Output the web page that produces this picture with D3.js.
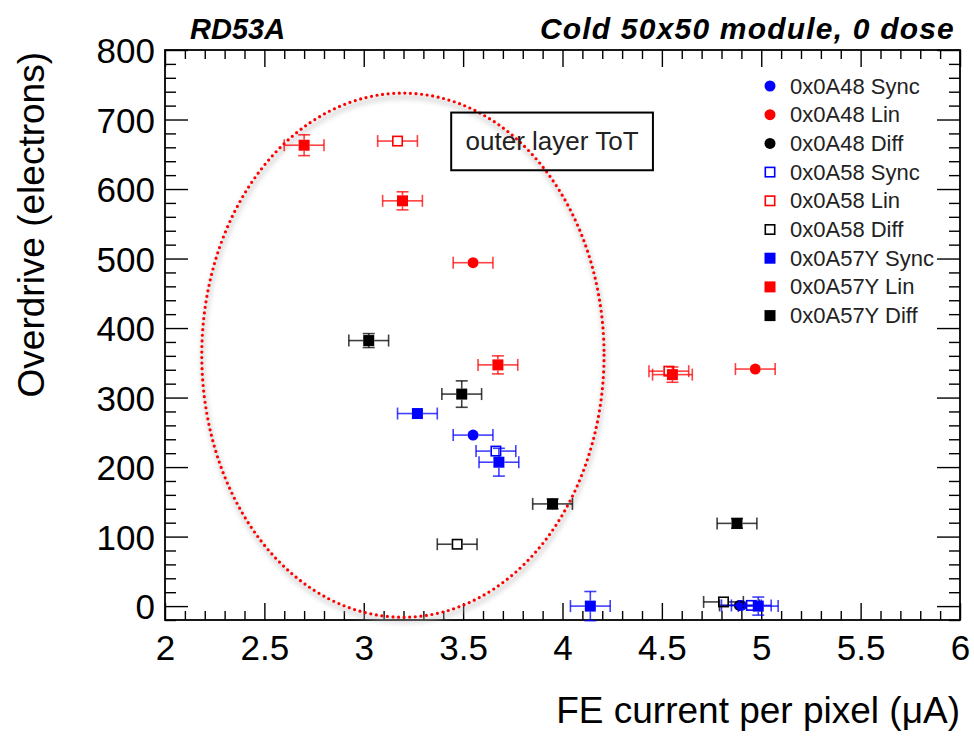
<!DOCTYPE html>
<html>
<head>
<meta charset="utf-8">
<script src="https://cdn.jsdelivr.net/npm/d3@7"></script>
<style>
  body { margin: 0; background: #fff; }
  svg text { font-family: "Liberation Sans", Arial, Helvetica, sans-serif; }
</style>
</head>
<body>
<svg id="chart" width="974" height="736"></svg>
<script>
// series values: [x (uA), y (electrons), x error, y error]
const a48Sync  = [[3.55, 246, 0.10, 0], [4.90, 1, 0.10, 0]];
const a48Lin   = [[3.55, 494, 0.10, 0], [4.97, 341, 0.10, 0]];
const a48Diff  = [[4.89, 1, 0.10, 0]];
const a58Sync  = [[3.665, 223, 0.10, 0], [4.95, 1, 0.10, 0]];
const a58Lin   = [[3.17, 669, 0.10, 0], [4.535, 338, 0.10, 0]];
const a58Diff  = [[3.47, 89, 0.10, 0], [4.81, 6, 0.10, 0]];
const a57YSync = [[3.27, 277, 0.10, 0], [3.68, 207, 0.10, 20], [4.14, 0, 0.10, 21], [4.985, 0, 0.10, 13]];
const a57YLin  = [[2.70, 663, 0.10, 15], [3.195, 583, 0.10, 13], [3.675, 347, 0.10, 13], [4.553, 333, 0.10, 11]];
const a57YDiff = [[3.025, 382, 0.10, 10], [3.493, 305, 0.10, 19], [3.95, 147, 0.10, 7], [4.878, 119, 0.10, 7]];

const seriesNames = ['0x0A48 Sync', '0x0A48 Lin', '0x0A48 Diff',
                     '0x0A58 Sync', '0x0A58 Lin', '0x0A58 Diff',
                     '0x0A57Y Sync', '0x0A57Y Lin', '0x0A57Y Diff'];
const seriesData = [a48Sync, a48Lin, a48Diff, a58Sync, a58Lin, a58Diff, a57YSync, a57YLin, a57YDiff];
const seriesColor = ['#0000ff', '#ff0000', '#000000', '#0000ff', '#ff0000', '#000000', '#0000ff', '#ff0000', '#000000'];
const seriesMarker = ['circle', 'circle', 'circle', 'open', 'open', 'open', 'square', 'square', 'square'];
// draw order (black 0x0A48 circle sits under the blue one)
const drawOrder = [2, 0, 1, 5, 3, 4, 8, 6, 7];

const xMajor = [2, 2.5, 3, 3.5, 4, 4.5, 5, 5.5, 6];
const yMajor = [0, 100, 200, 300, 400, 500, 600, 700, 800];

const titleLeft = 'RD53A';
const titleRight = 'Cold 50x50 module, 0 dose';
const xTitle = 'FE current per pixel (\u03bcA)';
const yTitle = 'Overdrive (electrons)';
const boxLabel = 'outer layer ToT';

// annotation ellipse in data units: centre, half-widths
const ellipse = { cx: 3.197, cy: 361, rx: 1.012, ry: 377 };
const box = { x0: 3.44, x1: 4.455, y0: 710, y1: 627 };

const svg = d3.select('#chart');
const mLeft = 165, mRight = 960, mTop = 50, mBottom = 620;

const x = d3.scaleLinear().domain([2, 6]).range([mLeft, mRight]);
const y = d3.scaleLinear().domain([-20, 800]).range([mBottom, mTop]);

// defs: blur filter for the ellipse shadow
const defs = svg.append('defs');
defs.append('filter').attr('id', 'shadow').attr('x', '-20%').attr('y', '-20%').attr('width', '140%').attr('height', '140%')
    .append('feGaussianBlur').attr('stdDeviation', 2.5);

// ---------- axes ----------
const minorX = d3.range(20, 61).map(d => d / 10).filter(d => Math.abs(d * 2 - Math.round(d * 2)) > 1e-6);
const minorY = d3.range(-20, 801, 20).filter(d => d % 100 !== 0);

const gx = svg.append('g').attr('transform', `translate(0,${mBottom})`)
    .call(d3.axisBottom(x).tickValues(xMajor).tickSize(-17).tickPadding(16).tickFormat(d3.format('')));
svg.append('g').attr('transform', `translate(0,${mBottom})`)
    .call(d3.axisBottom(x).tickValues(minorX).tickSize(-9).tickFormat(''));
svg.append('g').attr('transform', `translate(0,${mTop})`)
    .call(d3.axisTop(x).tickValues(xMajor).tickSize(-17).tickFormat(''));
svg.append('g').attr('transform', `translate(0,${mTop})`)
    .call(d3.axisTop(x).tickValues(minorX).tickSize(-9).tickFormat(''));

const gy = svg.append('g').attr('transform', `translate(${mLeft},0)`)
    .call(d3.axisLeft(y).tickValues(yMajor).tickSize(-23).tickPadding(10));
svg.append('g').attr('transform', `translate(${mLeft},0)`)
    .call(d3.axisLeft(y).tickValues(minorY).tickSize(-11).tickFormat(''));
svg.append('g').attr('transform', `translate(${mRight},0)`)
    .call(d3.axisRight(y).tickValues(yMajor).tickSize(-23).tickFormat(''));
svg.append('g').attr('transform', `translate(${mRight},0)`)
    .call(d3.axisRight(y).tickValues(minorY).tickSize(-11).tickFormat(''));

svg.selectAll('.domain').remove();
svg.selectAll('.tick line').attr('stroke', '#000').attr('stroke-width', 1.4);
svg.selectAll('.tick text').attr('fill', '#000').style('font-size', '35px');
gy.selectAll('.tick text').attr('dy', '0.36em');
gx.selectAll('.tick text').attr('dy', '0.68em');

svg.append('rect')
    .attr('x', mLeft).attr('y', mTop).attr('width', mRight - mLeft).attr('height', mBottom - mTop)
    .attr('fill', 'none').attr('stroke', '#000').attr('stroke-width', 1.8);

// ---------- titles ----------
svg.append('text').attr('x', 190).attr('y', 39)
    .style('font-size', '29px').style('font-weight', 'bold').style('font-style', 'italic')
    .text(titleLeft);
svg.append('text').attr('x', 955).attr('y', 39).attr('text-anchor', 'end')
    .style('font-size', '30px').style('font-weight', 'bold').style('font-style', 'italic')
    .style('letter-spacing', '1.2px')
    .text(titleRight);
svg.append('text').attr('x', 960).attr('y', 723).attr('text-anchor', 'end')
    .style('font-size', '37px').text(xTitle);
svg.append('text').attr('transform', 'translate(44,52) rotate(-90)').attr('text-anchor', 'end')
    .style('font-size', '37px').text(yTitle);

// ---------- ellipse annotation ----------
const ex = x(ellipse.cx), ey = y(ellipse.cy);
const erx = x(ellipse.cx + ellipse.rx) - ex, ery = ey - y(ellipse.cy + ellipse.ry);
svg.append('ellipse')
    .attr('cx', ex + 1).attr('cy', ey + 4).attr('rx', erx).attr('ry', ery)
    .attr('fill', 'none').attr('stroke', '#bbb').attr('stroke-width', 4).attr('opacity', 0.6)
    .attr('filter', 'url(#shadow)');
svg.append('ellipse')
    .attr('cx', ex).attr('cy', ey).attr('rx', erx).attr('ry', ery)
    .attr('fill', 'none').attr('stroke', '#ff0000').attr('stroke-width', 3.2)
    .attr('stroke-linecap', 'round').attr('stroke-dasharray', '0 5.6');

// ---------- text box ----------
svg.append('rect')
    .attr('x', x(box.x0)).attr('y', y(box.y0))
    .attr('width', x(box.x1) - x(box.x0)).attr('height', y(box.y1) - y(box.y0))
    .attr('fill', 'none').attr('stroke', '#000').attr('stroke-width', 2);
svg.append('text')
    .attr('x', (x(box.x0) + x(box.x1)) / 2).attr('y', (y(box.y0) + y(box.y1)) / 2)
    .attr('text-anchor', 'middle').attr('dominant-baseline', 'central')
    .style('font-size', '26px').attr('fill', '#222').text(boxLabel);

// ---------- points with error bars ----------
const half = 5.5, cap = 6;
const plot = svg.append('g');

function drawMarker(g, kind, color, px, py) {
    if (kind === 'circle') {
        g.append('circle').attr('cx', px).attr('cy', py).attr('r', half).attr('fill', color);
    } else if (kind === 'square') {
        g.append('rect').attr('x', px - half).attr('y', py - half).attr('width', 2 * half).attr('height', 2 * half).attr('fill', color);
    } else {
        g.append('rect').attr('x', px - half + 0.8).attr('y', py - half + 0.8).attr('width', 2 * half - 1.6).attr('height', 2 * half - 1.6)
            .attr('fill', 'none').attr('stroke', color).attr('stroke-width', 1.6);
    }
}

drawOrder.forEach(i => {
    const color = seriesColor[i];
    const g = plot.append('g').attr('class', 'series');
    seriesData[i].forEach(([vx, vy, exv, eyv]) => {
        const px = x(vx), py = y(vy);
        const xl = x(vx - exv), xr = x(vx + exv);
        const eb = g.append('g').attr('stroke', color).attr('stroke-width', 1.6).attr('stroke-opacity', 0.75);
        eb.append('line').attr('x1', xl).attr('x2', px - half).attr('y1', py).attr('y2', py);
        eb.append('line').attr('x1', px + half).attr('x2', xr).attr('y1', py).attr('y2', py);
        eb.append('line').attr('x1', xl).attr('x2', xl).attr('y1', py - cap).attr('y2', py + cap);
        eb.append('line').attr('x1', xr).attr('x2', xr).attr('y1', py - cap).attr('y2', py + cap);
        if (eyv > 0) {
            const yt = y(vy + eyv), yb = y(vy - eyv);
            eb.append('line').attr('x1', px).attr('x2', px).attr('y1', yt).attr('y2', py - half);
            eb.append('line').attr('x1', px).attr('x2', px).attr('y1', py + half).attr('y2', yb);
            eb.append('line').attr('x1', px - cap).attr('x2', px + cap).attr('y1', yt).attr('y2', yt);
            eb.append('line').attr('x1', px - cap).attr('x2', px + cap).attr('y1', yb).attr('y2', yb);
        }
        drawMarker(g, seriesMarker[i], color, px, py);
    });
});

// ---------- legend ----------
const legend = svg.append('g');
seriesNames.forEach((name, i) => {
    const ly = 86 + i * 28.7;
    drawMarker(legend, seriesMarker[i], seriesColor[i], 770, ly);
    legend.append('text').attr('x', 790).attr('y', ly).attr('dominant-baseline', 'central')
        .style('font-size', '22px').attr('fill', '#222').text(name);
});
</script>
</body>
</html>
